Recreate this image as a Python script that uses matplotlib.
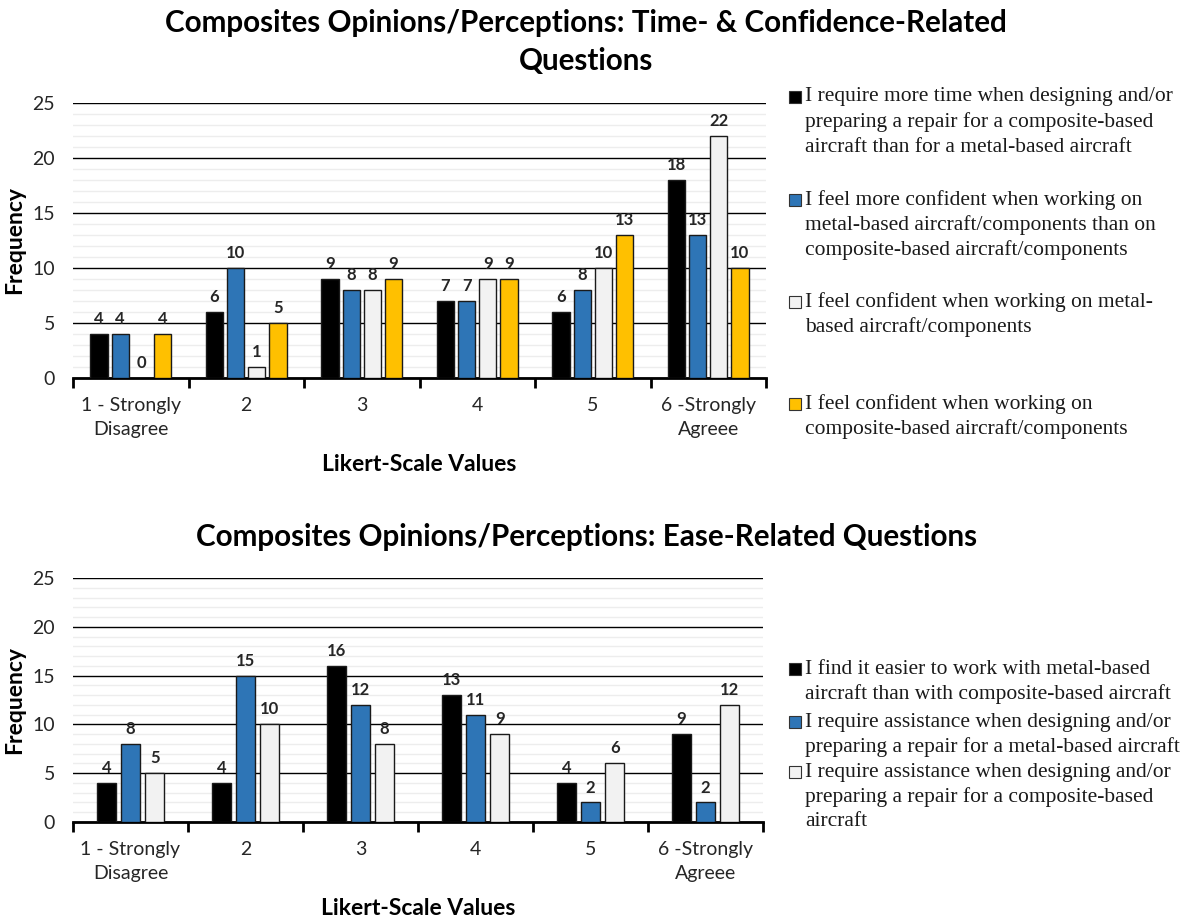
import numpy as np
import matplotlib.pyplot as plt
from matplotlib.patches import Rectangle

plt.rcParams['font.family'] = ['Lato', 'DejaVu Sans']

# Likert categories shared by both charts
categories = ['1 - Strongly\nDisagree', '2', '3', '4', '5', '6 -Strongly\nAgreee']

# Time- & confidence-related questions
time_more = [4, 6, 9, 7, 6, 18]
conf_metal_over_comp = [4, 10, 8, 7, 8, 13]
conf_metal = [0, 1, 8, 9, 10, 22]
conf_comp = [4, 5, 9, 9, 13, 10]
top_labels = [
    'I require more time when designing and/or\npreparing a repair for a composite-based\naircraft than for a metal-based aircraft',
    'I feel more confident when working on\nmetal-based aircraft/components than on\ncomposite-based aircraft/components',
    'I feel confident when working on metal-\nbased aircraft/components',
    'I feel confident when working on\ncomposite-based aircraft/components',
]

# Ease-related questions
easier_metal = [4, 4, 16, 13, 4, 9]
assist_metal = [8, 15, 12, 11, 2, 2]
assist_comp = [5, 10, 8, 9, 6, 12]
bottom_labels = [
    'I find it easier to work with metal-based\naircraft than with composite-based aircraft',
    'I require assistance when designing and/or\npreparing a repair for a metal-based aircraft',
    'I require assistance when designing and/or\npreparing a repair for a composite-based\naircraft',
]

colors4 = ['#000000', '#2E75B6', '#F2F2F2', '#FFC000']
colors3 = ['#000000', '#2E75B6', '#F2F2F2']

W, H = 1183, 919
fig = plt.figure(figsize=(W / 100, H / 100), dpi=100)
ax1 = fig.add_axes([73 / W, 1 - 378 / H, 693 / W, 275 / H])
ax2 = fig.add_axes([73 / W, 1 - 822 / H, 690 / W, 244 / H])


def draw(ax, series, colors, width, step, xlab_y):
    x = np.arange(len(categories))
    n = len(series)
    for i, (vals, c) in enumerate(zip(series, colors)):
        pos = x + (i - (n - 1) / 2) * step
        bars = ax.bar(pos, vals, width, color=c, edgecolor='#1a1a1a', linewidth=1, zorder=3)
        for b, v in zip(bars, vals):
            ax.annotate(str(v), (b.get_x() + b.get_width() / 2, v), xytext=(0, 5),
                        textcoords='offset points', ha='center', va='bottom',
                        fontsize=12, fontweight='bold', color='#262626')
    ax.set_xlim(-0.5, len(categories) - 0.5)
    ax.set_ylim(0, 25)
    ax.set_yticks(range(0, 26, 5))
    ax.set_yticks(range(0, 26), minor=True)
    ax.yaxis.grid(True, which='major', color='black', linewidth=1, zorder=0)
    ax.yaxis.grid(True, which='minor', color='#EDEDED', linewidth=1, zorder=0)
    ax.tick_params(axis='y', which='both', length=0, labelsize=14, pad=13, labelcolor='#262626')
    # tick marks on category boundaries, labels at centres
    ax.set_xticks(np.arange(-0.5, len(categories)), [''] * (len(categories) + 1))
    ax.set_xticks(x, categories, minor=True)
    ax.tick_params(axis='x', which='major', length=7, width=2, direction='out')
    ax.tick_params(axis='x', which='minor', length=0, labelsize=14, pad=14, labelcolor='#262626')
    for lbl in ax.get_xticklabels(minor=True):
        lbl.set_linespacing(1.45)
    for s in ['top', 'right', 'left']:
        ax.spines[s].set_visible(False)
    ax.spines['bottom'].set_linewidth(2)
    bb = ax.get_position()
    ax.set_ylabel('Frequency', fontsize=16.5, fontweight='bold', va='center')
    ax.yaxis.set_label_coords((15 / W - bb.x0) / bb.width, 0.5)
    ax.set_xlabel('Likert-Scale Values', fontsize=16.5, fontweight='bold', va='center')
    ax.xaxis.set_label_coords(0.5, ((1 - xlab_y / H) - bb.y0) / bb.height)
    ax.set_axisbelow(True)


draw(ax1, [time_more, conf_metal_over_comp, conf_metal, conf_comp], colors4, 0.148, 0.183, 465)
draw(ax2, [easier_metal, assist_metal, assist_comp], colors3, 0.165, 0.21, 908)

fig.text(586 / W, 1 - 42 / H, 'Composites Opinions/Perceptions: Time- & Confidence-Related\nQuestions',
         ha='center', va='center', fontsize=21.3, fontweight='bold', linespacing=1.45)
fig.text(587 / W, 1 - 537 / H, 'Composites Opinions/Perceptions: Ease-Related Questions',
         ha='center', va='center', fontsize=21.3, fontweight='bold')


def legend(labels, colors, tops):
    for lab, c, y in zip(labels, colors, tops):
        fig.add_artist(Rectangle((789 / W, 1 - (y + 6) / H), 12 / W, 12 / H,
                                 transform=fig.transFigure, facecolor=c,
                                 edgecolor='#333333', linewidth=0.8))
        for k, line in enumerate(lab.split('\n')):
            fig.text(805 / W, 1 - (y + 25 * k) / H, line, ha='left', va='center',
                     fontsize=15.5, family='Liberation Serif', color='#1a1a1a')


legend(top_labels, colors4, [97, 200, 302, 404])
legend(bottom_labels, colors3, [669, 722, 772])

fig.savefig('out.png', dpi=100)
